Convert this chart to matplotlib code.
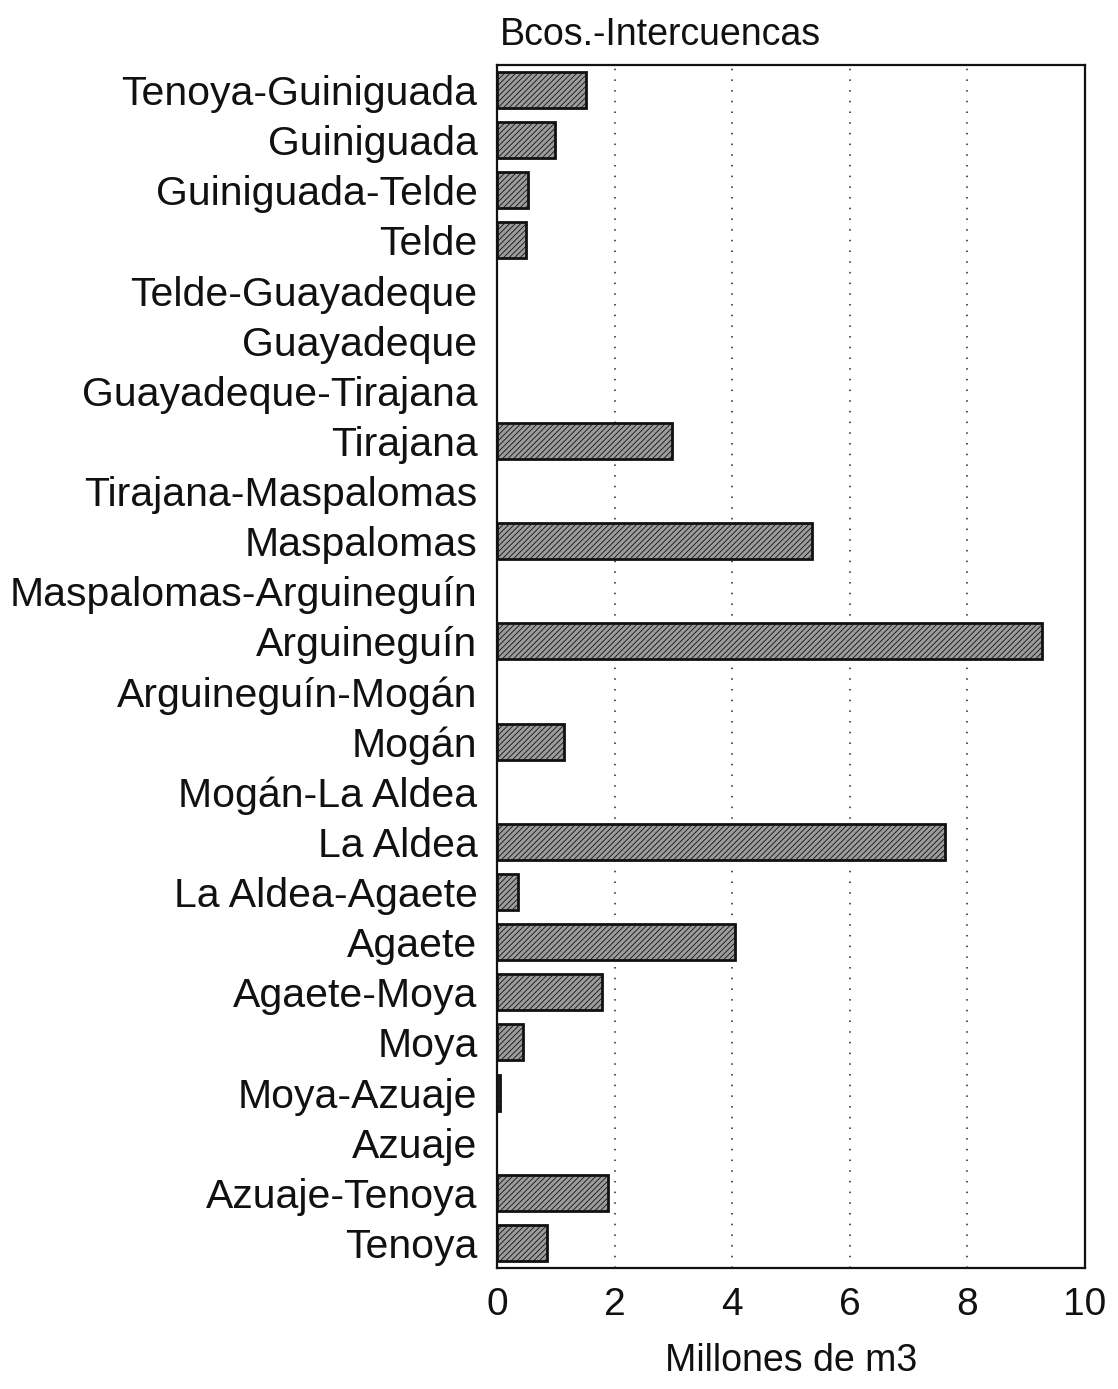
#!/usr/bin/env python3
"""
Horizontal bar chart: volumes per barranco / intercuenca (Gran Canaria).
Output: out.png
"""
import matplotlib
matplotlib.use('Agg')
import matplotlib.pyplot as plt

plt.rcParams['font.family'] = ['Liberation Sans', 'DejaVu Sans']
plt.rcParams['hatch.linewidth'] = 0.6

# categories, top to bottom as in the original figure
categories = [
    'Tenoya-Guiniguada', 'Guiniguada', 'Guiniguada-Telde', 'Telde',
    'Telde-Guayadeque', 'Guayadeque', 'Guayadeque-Tirajana', 'Tirajana',
    'Tirajana-Maspalomas', 'Maspalomas', 'Maspalomas-Arguineguín',
    'Arguineguín', 'Arguineguín-Mogán', 'Mogán', 'Mogán-La Aldea',
    'La Aldea', 'La Aldea-Agaete', 'Agaete', 'Agaete-Moya', 'Moya',
    'Moya-Azuaje', 'Azuaje', 'Azuaje-Tenoya', 'Tenoya',
]
# millones de m3
volumes = [
    1.52, 0.99, 0.53, 0.49,
    0.0, 0.0, 0.0, 2.97,
    0.0, 5.36, 0.0,
    9.27, 0.0, 1.14, 0.0,
    7.62, 0.35, 4.05, 1.79, 0.44,
    0.05, 0.0, 1.88, 0.85,
]
xticks = [0, 2, 4, 6, 8, 10]


def main():
    fig = plt.figure(figsize=(11.18, 13.89), dpi=100)
    ax = fig.add_axes([0.4445, 0.0871, 0.526, 0.8661])

    ypos = list(range(len(categories)))
    # no outline for empty entries
    lws = [2 if v > 0 else 0 for v in volumes]
    ax.barh(ypos, volumes, height=0.72, color='#9c9c9c', edgecolor='#111111',
            linewidth=lws, hatch='//////', zorder=3)

    ax.set_ylim(len(categories) - 0.5, -0.5)
    ax.set_xlim(0, 10)
    ax.set_yticks(ypos)
    ax.set_yticklabels(categories, fontsize=29.5)
    ax.set_xticks(xticks)
    ax.set_xticklabels([str(t) for t in xticks], fontsize=28)
    ax.tick_params(axis='both', length=0, colors='#111111')
    ax.tick_params(axis='y', pad=14)
    ax.tick_params(axis='x', pad=14)

    # dotted vertical grid
    ax.xaxis.grid(True, linestyle=(0, (1, 6)), color='#222222', linewidth=1.1)
    ax.set_axisbelow(True)
    for s in ax.spines.values():
        s.set_linewidth(1.6)
        s.set_color('#111111')

    ax.set_xlabel('Millones de m3', fontsize=27, labelpad=14, color='#111111')
    fig.text(500 / 1118, 1 - 35 / 1389, 'Bcos.-Intercuencas', fontsize=27,
             ha='left', va='center', color='#111111')

    fig.savefig('out.png', dpi=100, facecolor='white')
    plt.close(fig)


if __name__ == '__main__':
    main()
